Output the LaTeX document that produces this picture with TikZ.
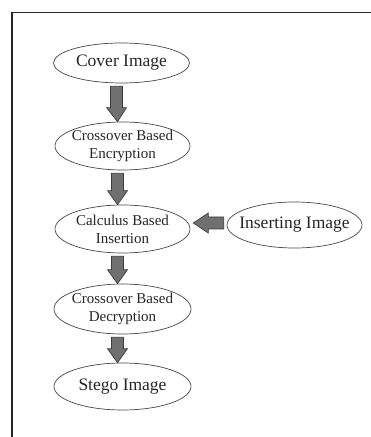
\documentclass[tikz,border=0pt]{standalone}
\usepackage{fontspec}
\setmainfont{Liberation Serif}
\usetikzlibrary{shapes.geometric,calc}
\definecolor{inkc}{HTML}{262626}
\definecolor{arrowfill}{HTML}{707070}
\definecolor{arrowline}{HTML}{3C3C3C}
\tikzset{
  stage/.style={ellipse, draw=inkc!85, line width=0.7pt, inner xsep=-22pt, inner ysep=-6pt,
    minimum width=135pt, minimum height=46pt, text=inkc, align=center},
  bigtext/.style={font=\fontsize{17.5}{18}\selectfont},
  smalltext/.style={font=\fontsize{15}{18}\selectfont},
  blockarrow/.style={fill=arrowfill, draw=arrowline, line width=0.7pt, line join=miter},
  frameline/.style={draw=inkc, line width=1.6pt}
}
\newcommand\downblock[2]{%
  \path[blockarrow] let \p1=($(#1.south)+(-5pt,-3pt)$), \p2=($(#2.north)+(-5pt,0)$) in
    (\x1-6pt,\y1) -- (\x1+6pt,\y1) -- (\x1+6pt,\y2+14pt) -- (\x1+10pt,\y2+14pt)
    -- (\x2,\y2) -- (\x1-10pt,\y2+14pt) -- (\x1-6pt,\y2+14pt) -- cycle;}
\newcommand\leftblock[2]{%
  \path[blockarrow] let \p1=($(#1.west)+(-3pt,2pt)$), \p2=($(#2.east)+(3pt,2pt)$) in
    (\x1,\y1-6pt) -- (\x1,\y1+6pt) -- (\x2+15pt,\y1+6pt) -- (\x2+15pt,\y1+10pt)
    -- (\x2,\y1) -- (\x2+15pt,\y1-10pt) -- (\x2+15pt,\y1-6pt) -- cycle;}
\begin{document}
\begin{tikzpicture}[x=1pt,y=1pt]
\useasboundingbox (0,0) rectangle (371,437);
\fill[white] (0,0) rectangle (371,437);
\coordinate (fl) at (12,0);
\coordinate (fc) at (12,424.5);
\coordinate (fr) at (371,424.5);
\draw[frameline] (fl) -- (fc) -- (fr);

\node[stage, bigtext, minimum height=40pt, minimum width=136pt] (cover) at (121.5,374) {Cover Image};
\node[stage, smalltext, minimum height=48pt] (enc) at (122.5,291) {Crossover Based\\Encryption};
\node[stage, smalltext, minimum height=48pt] (calc) at (122.5,208) {Calculus Based\\Insertion};
\node[stage, smalltext, minimum height=50pt, minimum width=137pt] (dec) at (122.5,128) {Crossover Based\\Decryption};
\node[stage, bigtext, minimum height=47pt, minimum width=137pt] (stego) at (122.5,50.5) {Stego Image};
\node[stage, bigtext, minimum height=46pt] (ins) at (294.5,212) {Inserting Image};

\downblock{cover}{enc}
\downblock{enc}{calc}
\downblock{calc}{dec}
\downblock{dec}{stego}
\leftblock{ins}{calc}
\end{tikzpicture}
\end{document}
